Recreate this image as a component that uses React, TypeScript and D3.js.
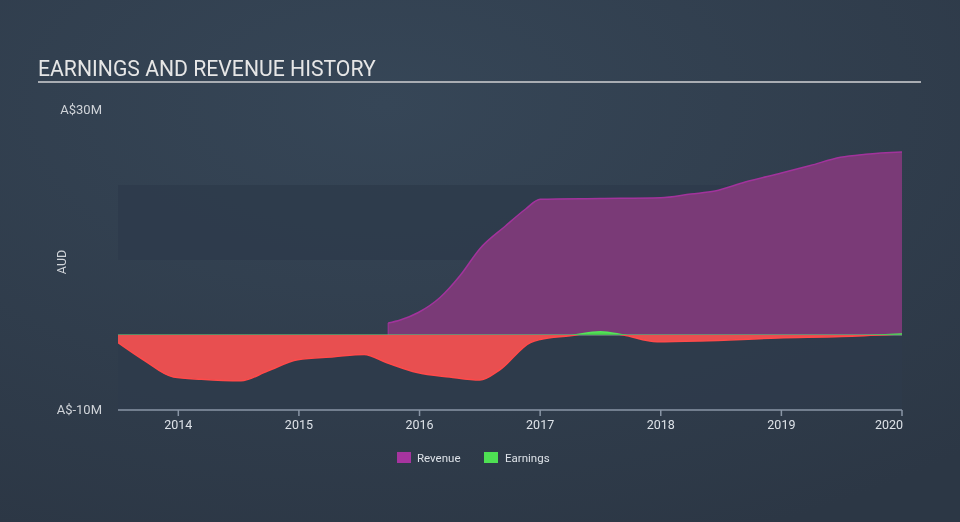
import React from "react";
import * as d3 from "d3";

const revYears = [2015.74, 2015.84, 2015.99, 2016.17, 2016.34, 2016.5, 2016.71, 2016.88, 2017.0, 2017.5, 2018.0, 2018.25, 2018.45, 2018.7, 2019.0, 2019.24, 2019.49, 2019.7, 2020.0];
const revValues = [1.6, 2.0, 3.0, 5.0, 8.0, 11.5, 14.5, 16.8, 18.1, 18.2, 18.3, 18.8, 19.2, 20.4, 21.6, 22.6, 23.7, 24.1, 24.4];

const earnYears = [2013.5, 2013.71, 2013.96, 2014.19, 2014.52, 2014.74, 2014.99, 2015.29, 2015.54, 2015.73, 2015.98, 2016.25, 2016.5, 2016.66, 2016.92, 2017.0, 2017.25, 2017.5, 2017.69, 2017.97, 2018.33, 2018.97, 2019.5, 2020.0];
const earnValues = [-1.0, -3.3, -5.6, -5.9, -6.1, -4.8, -3.3, -2.9, -2.6, -3.7, -5.0, -5.6, -6.0, -4.7, -1.0, -0.6, -0.1, 0.45, 0.0, -0.9, -0.8, -0.4, -0.2, 0.15];

const xTicks = [2014, 2015, 2016, 2017, 2018, 2019, 2020];
const yTickLabels = ["A$30M", "A$-10M"];
const yTickValues = [30, -10];
const bandRanges: [number, number][] = [[20, 10], [0, -10]];

const W = 960, H = 522;
const L = 118, R = 902, T = 110, B = 410;

export default function App() {
  const x = d3.scaleLinear().domain([2013.5, 2020.0]).range([L, R]);
  const y = d3.scaleLinear().domain([-10, 30]).range([B, T]);

  const rev = revYears.map((d, i) => ({ x: d, y: revValues[i] }));
  const earn = earnYears.map((d, i) => ({ x: d, y: earnValues[i] }));

  const revArea = d3.area<{ x: number; y: number }>()
    .x(d => x(d.x)).y0(y(0)).y1(d => y(d.y)).curve(d3.curveMonotoneX);
  const revLine = d3.line<{ x: number; y: number }>()
    .x(d => x(d.x)).y(d => y(d.y)).curve(d3.curveMonotoneX);
  const earnArea = d3.area<{ x: number; y: number }>()
    .x(d => x(d.x)).y0(y(0)).y1(d => y(d.y)).curve(d3.curveMonotoneX);
  const earnLine = d3.line<{ x: number; y: number }>()
    .x(d => x(d.x)).y(d => y(d.y)).curve(d3.curveMonotoneX);

  const y0 = y(0);

  return (
    <svg width={W} height={H} style={{ position: "fixed", left: 0, top: 0 }} fontFamily="Roboto, sans-serif">
      <defs>
        <radialGradient id="bg" cx="0.4" cy="0.2" r="0.9">
          <stop offset="0" stopColor="#364657" />
          <stop offset="1" stopColor="#2c3745" />
        </radialGradient>
        <clipPath id="pos"><rect x={L} y={0} width={R - L} height={y0} /></clipPath>
        <clipPath id="neg"><rect x={L} y={y0} width={R - L} height={H - y0} /></clipPath>
      </defs>
      <rect width={W} height={H} fill="url(#bg)" />
      <text x={38} y={76} fill="#e6e6e6" fontSize={21.2}>EARNINGS AND REVENUE HISTORY</text>
      <line x1={38} x2={921} y1={82} y2={82} stroke="#a9adb3" strokeWidth={2} />

      {bandRanges.map((b, i) => (
        <rect key={i} x={L} y={y(b[0])} width={R - L} height={y(b[1]) - y(b[0])} fill="#2e3b4b" opacity={0.85} />
      ))}

      <path d={revArea(rev) || ""} fill="#7a3a77" />
      <path d={revLine(rev) || ""} fill="none" stroke="#a2339c" strokeWidth={1.5} />
      <line x1={x(revYears[0])} x2={x(revYears[0])} y1={y0} y2={y(revValues[0])} stroke="#a2339c" strokeWidth={1} />

      <line x1={L} x2={R} y1={y0} y2={y0} stroke="#c9d6c9" strokeWidth={1} opacity={0.6} />
      <g clipPath="url(#neg)">
        <path d={earnArea(earn) || ""} fill="#e84f50" />
        <path d={earnLine(earn) || ""} fill="none" stroke="#ff4a4a" strokeWidth={1.5} />
      </g>
      <g clipPath="url(#pos)">
        <path d={earnArea(earn) || ""} fill="#4bd64f" />
        <path d={earnLine(earn) || ""} fill="none" stroke="#55e35a" strokeWidth={1.5} />
      </g>
      <line x1={L} x2={R} y1={y0 - 0.5} y2={y0 - 0.5} stroke="#4da85a" strokeWidth={1} opacity={0.5} />

      <line x1={L} x2={R} y1={B} y2={B} stroke="#8a96a6" strokeWidth={1.5} />
      {xTicks.map((t, i) => (
        <g key={t}>
          <line x1={x(t)} x2={x(t)} y1={B} y2={B + 6} stroke="#8a96a6" strokeWidth={1.5} />
          <text x={i === xTicks.length - 1 ? x(t) + 1 : x(t)} y={429} fill="#dde2e8" fontSize={12.5}
            textAnchor={i === xTicks.length - 1 ? "end" : "middle"}>{t}</text>
        </g>
      ))}

      {yTickValues.map((v, i) => (
        <text key={v} x={102} y={y(v) + 4} fill="#d0d4d9" fontSize={13} textAnchor="end">{yTickLabels[i]}</text>
      ))}
      <text transform={`translate(66,${(T + B) / 2 + 2}) rotate(-90)`} fill="#d0d4d9" fontSize={12.5} textAnchor="middle">AUD</text>

      <rect x={397} y={452} width={14} height={11} fill="#a6349f" />
      <text x={417} y={462} fill="#dde2e8" fontSize={11.5}>Revenue</text>
      <rect x={484} y={452} width={14} height={11} fill="#4ee053" />
      <text x={505} y={462} fill="#dde2e8" fontSize={11.5}>Earnings</text>
    </svg>
  );
}
